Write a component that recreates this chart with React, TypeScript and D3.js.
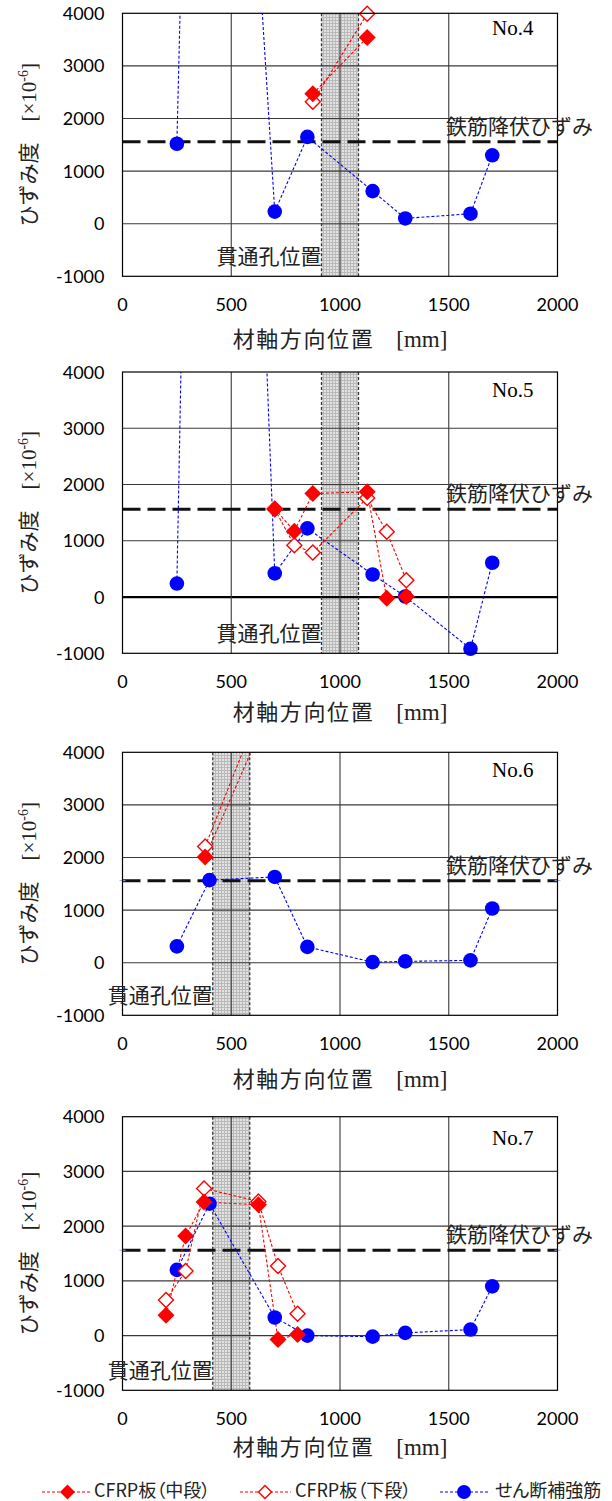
import React from 'react';
import * as d3 from 'd3';

// ---------- data ----------
const xTicks = [0, 500, 1000, 1500, 2000];
const yTicks = [-1000, 0, 1000, 2000, 3000, 4000];
const yieldStrain = 1560;
const holeHalfWidth = 85;

const panelNames = ['No.4', 'No.5', 'No.6', 'No.7'];
const holeCenters = [1000, 1000, 500, 500];

// No.4
const no4BlueX = [250, 370, 700, 850, 1150, 1300, 1600, 1700];
const no4BlueY = [1520, 22000, 230, 1650, 620, 100, 190, 1300];
const no4MidX = [875, 1125];
const no4MidY = [2470, 3540];
const no4LowX = [875, 1125];
const no4LowY = [2320, 3990];

// No.5
const no5BlueX = [250, 400, 700, 850, 1150, 1300, 1600, 1700];
const no5BlueY = [240, 30400, 420, 1220, 400, 10, -920, 610];
const no5MidX = [700, 790, 875, 1125, 1215, 1305];
const no5MidY = [1570, 1170, 1840, 1870, -20, 10];
const no5LowX = [700, 790, 875, 1125, 1215, 1305];
const no5LowY = [1560, 920, 790, 1760, 1160, 300];

// No.6
const no6BlueX = [250, 400, 700, 850, 1150, 1300, 1600, 1700];
const no6BlueY = [310, 1570, 1630, 300, 10, 25, 45, 1030];
const no6MidX = [380, 625];
const no6MidY = [2010, 4330];
const no6LowX = [380, 625];
const no6LowY = [2210, 4760];

// No.7
const no7BlueX = [250, 400, 700, 850, 1150, 1300, 1600, 1700];
const no7BlueY = [1200, 2410, 330, 0, -20, 50, 110, 900];
const no7MidX = [200, 290, 375, 625, 715, 805];
const no7MidY = [370, 1820, 2440, 2390, -70, 20];
const no7LowX = [200, 290, 375, 625, 715, 805];
const no7LowY = [650, 1180, 2690, 2450, 1270, 400];

const legendLabels = ['CFRP板（中段）', 'CFRP板（下段）', 'せん断補強筋'];

const blueXs = [no4BlueX, no5BlueX, no6BlueX, no7BlueX];
const blueYs = [no4BlueY, no5BlueY, no6BlueY, no7BlueY];
const midXs = [no4MidX, no5MidX, no6MidX, no7MidX];
const midYs = [no4MidY, no5MidY, no6MidY, no7MidY];
const lowXs = [no4LowX, no5LowX, no6LowX, no7LowX];
const lowYs = [no4LowY, no5LowY, no6LowY, no7LowY];

// ---------- layout ----------
const W = 612;
const H = 1501;
const xLeft = 122.5;
const xRight = 557.5;
const panelTops = [13.3, 372, 752.3, 1116.7];
const panelBottoms = [276.3, 653.3, 1015.3, 1390.3];
const nameDy = [22, 25, 25, 28];
const xTitleDy = [71, 67, 72, 65];
const boldZero = [false, true, false, false];
const yieldEndMarks = [false, false, true, true];

const RED = '#ff0000';
const BLUE = '#0000ff';
const FONT_NUM = "Lato, 'Liberation Sans', sans-serif";
const FONT_CJK = "'Noto Sans CJK JP', sans-serif";
const FONT_SERIF = "'Liberation Serif', 'Times New Roman', serif";
const IDEO_SPACE = '\u3000';

const diamond = (r: number) => `M0,${-r}L${r},0L0,${r}L${-r},0Z`;

type Pt = { x: number; y: number };
const zip = (xs: number[], ys: number[]): Pt[] => xs.map((x, i) => ({ x, y: ys[i] }));

function Panel({ i }: { i: number }) {
  const top = panelTops[i];
  const bottom = panelBottoms[i];
  const x = d3.scaleLinear().domain([0, 2000]).range([xLeft, xRight]);
  const y = d3.scaleLinear().domain([-1000, 4000]).range([bottom, top]);
  const line = d3
    .line<Pt>()
    .x((d) => x(d.x))
    .y((d) => y(d.y));
  const blue = zip(blueXs[i], blueYs[i]);
  const mid = zip(midXs[i], midYs[i]);
  const low = zip(lowXs[i], lowYs[i]);
  const visible = (d: Pt) => d.y <= 4050 && d.y >= -1050;
  const clipId = `clip${i}`;
  const hc = holeCenters[i];
  const h0 = x(hc - holeHalfWidth);
  const h1 = x(hc + holeHalfWidth);
  const yy = y(yieldStrain);
  const cy = (top + bottom) / 2;

  return (
    <g>
      <defs>
        <clipPath id={clipId}>
          <rect x={xLeft} y={top} width={xRight - xLeft} height={bottom - top} />
        </clipPath>
      </defs>
      {/* hole shading */}
      <rect x={h0} y={top} width={h1 - h0} height={bottom - top} fill="url(#dots)" />
      {/* grid */}
      {yTicks.slice(1, -1).map((t) => (
        <line
          key={'h' + t}
          x1={xLeft}
          x2={xRight}
          y1={y(t)}
          y2={y(t)}
          stroke={t === 0 && boldZero[i] ? '#000' : '#3a3a3a'}
          strokeWidth={t === 0 && boldZero[i] ? 2.2 : 1.1}
        />
      ))}
      {xTicks.slice(1, -1).map((t) => (
        <line key={'v' + t} x1={x(t)} x2={x(t)} y1={top} y2={bottom} stroke="#3a3a3a" strokeWidth={1.1} />
      ))}
      {/* hole edges */}
      {[h0, h1].map((hx, k) => (
        <line key={'e' + k} x1={hx} x2={hx} y1={top} y2={bottom} stroke="#333" strokeWidth={1.3} strokeDasharray="3,2" />
      ))}
      {/* yield line */}
      <line x1={xLeft} x2={xRight} y1={yy} y2={yy} stroke="#111" strokeWidth={3} strokeDasharray="18,7" />
      {yieldEndMarks[i] &&
        [xLeft, xRight].map((mx, k) => (
          <path key={'ym' + k} d={`M${mx - 3},${yy}H${mx + 3}M${mx},${yy - 3}V${yy + 3}`} stroke="#9fb3e0" strokeWidth={1} />
        ))}
      {/* series lines */}
      <g clipPath={`url(#${clipId})`} fill="none" strokeWidth={1.1} strokeDasharray="3,2">
        <path d={line(blue) || ''} stroke={BLUE} />
        <path d={line(low) || ''} stroke={RED} />
        <path d={line(mid) || ''} stroke={RED} />
      </g>
      {/* markers */}
      {blue.filter(visible).map((d, k) => (
        <circle key={'b' + k} cx={x(d.x)} cy={y(d.y)} r={7.3} fill={BLUE} />
      ))}
      {low.filter(visible).map((d, k) => (
        <path key={'l' + k} d={diamond(7.5)} transform={`translate(${x(d.x)},${y(d.y)})`} fill="#fff" stroke={RED} strokeWidth={1.4} />
      ))}
      {mid.filter(visible).map((d, k) => (
        <path key={'m' + k} d={diamond(8.5)} transform={`translate(${x(d.x)},${y(d.y)})`} fill={RED} />
      ))}
      {/* frame */}
      <rect x={xLeft} y={top} width={xRight - xLeft} height={bottom - top} fill="none" stroke="#000" strokeWidth={1.2} />
      {/* tick labels */}
      {yTicks.map((t) => (
        <text key={'yt' + t} x={104.5} y={y(t) + 6.5} textAnchor="end" fontFamily={FONT_NUM} fontSize={18} fill="#000">
          {t}
        </text>
      ))}
      {xTicks.map((t) => (
        <text key={'xt' + t} x={x(t)} y={bottom + 35} textAnchor="middle" fontFamily={FONT_NUM} fontSize={18} fill="#000">
          {t}
        </text>
      ))}
      {/* panel name */}
      <text x={492} y={top + nameDy[i]} fontFamily={FONT_SERIF} fontSize={21} fill="#000">
        {panelNames[i]}
      </text>
      {/* yield label */}
      <text x={446} y={yy - 8} fontFamily={FONT_CJK} fontSize={21} fill="#222">
        鉄筋降伏ひずみ
      </text>
      {/* hole label */}
      <text x={h0} y={bottom - 12} textAnchor="end" fontFamily={FONT_CJK} fontSize={21} fill="#222">
        貫通孔位置
      </text>
      {/* x title */}
      <text x={(xLeft + xRight) / 2} y={bottom + xTitleDy[i]} textAnchor="middle" fill="#222" style={{ whiteSpace: 'pre' }}>
        <tspan fontFamily={FONT_CJK} fontSize={22} letterSpacing={1.6}>
          {'材軸方向位置'}
        </tspan>
        <tspan fontFamily={FONT_CJK} fontSize={22}>
          {IDEO_SPACE}
        </tspan>
        <tspan fontFamily={FONT_SERIF} fontSize={23}>
          {'[mm]'}
        </tspan>
      </text>
      {/* y title */}
      <text
        transform={`translate(36,${cy}) rotate(-90)`}
        textAnchor="middle"
        fill="#222"
        style={{ whiteSpace: 'pre' }}
      >
        <tspan fontFamily={FONT_CJK} fontSize={21}>
          {'ひずみ度' + IDEO_SPACE}
        </tspan>
        <tspan fontFamily={FONT_SERIF} fontSize={21}>
          {'[×10'}
        </tspan>
        <tspan fontFamily={FONT_SERIF} fontSize={14} dy={-8}>
          {'-6'}
        </tspan>
        <tspan fontFamily={FONT_SERIF} fontSize={21} dy={8}>
          {']'}
        </tspan>
      </text>
    </g>
  );
}

function Legend() {
  const ly = 1492;
  const items = [
    { x0: 42, x1: 90.5, mx: 67.5, tx: 94, kind: 'mid', color: RED },
    { x0: 240, x1: 290.7, mx: 265, tx: 295, kind: 'low', color: RED },
    { x0: 440, x1: 488.5, mx: 464, tx: 495, kind: 'blue', color: BLUE },
  ];
  return (
    <g>
      {items.map((it, k) => (
        <g key={k}>
          <line x1={it.x0} x2={it.x1} y1={ly} y2={ly} stroke={it.color} strokeWidth={1.1} strokeDasharray="3,2" />
          {it.kind === 'mid' && <path d={diamond(7.5)} transform={`translate(${it.mx},${ly})`} fill={RED} />}
          {it.kind === 'low' && (
            <path d={diamond(6.5)} transform={`translate(${it.mx},${ly})`} fill="#fff" stroke={RED} strokeWidth={1.4} />
          )}
          {it.kind === 'blue' && <circle cx={it.mx} cy={ly} r={7} fill={BLUE} />}
          <text
            x={it.tx}
            y={ly + 5}
            fontFamily={FONT_CJK}
            fontSize={18}
            fill="#222"
            style={{ fontFeatureSettings: '"palt"' }}
          >
            {legendLabels[k]}
          </text>
        </g>
      ))}
    </g>
  );
}

export default function App() {
  return (
    <svg
      width={W}
      height={H}
      viewBox={`0 0 ${W} ${H}`}
      style={{ position: 'absolute', left: 0, top: 0, background: '#fff' }}
    >
      <defs>
        <pattern id="dots" width={3} height={3} patternUnits="userSpaceOnUse">
          <rect width={3} height={3} fill="#b9b9b9" />
          <rect width={2} height={2} fill="#e2e2e2" />
        </pattern>
      </defs>
      <rect width={W} height={H} fill="#fff" />
      {panelNames.map((_, i) => (
        <Panel key={i} i={i} />
      ))}
      <Legend />
    </svg>
  );
}
